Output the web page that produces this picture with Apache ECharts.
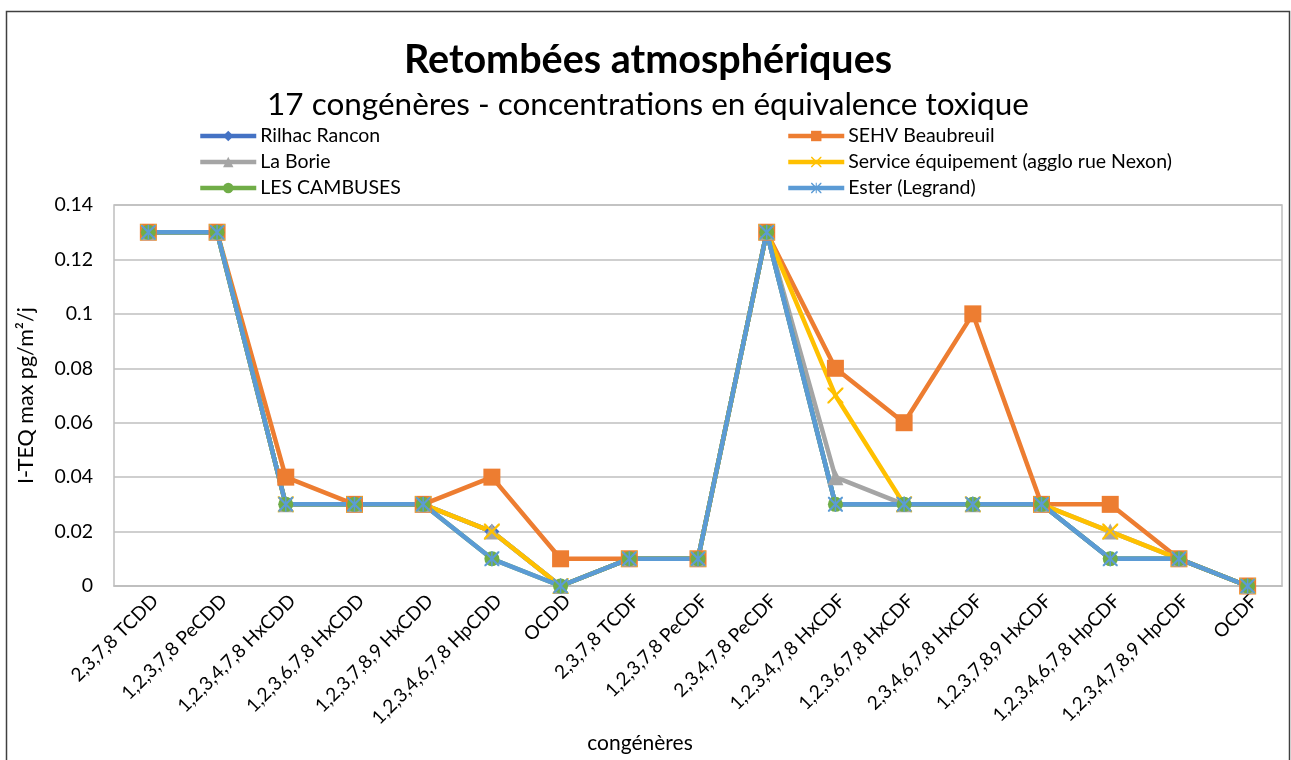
<!DOCTYPE html>
<html>
<head>
<meta charset="utf-8">
<script src="https://cdn.jsdelivr.net/npm/echarts@6/dist/echarts.min.js"></script>
<style>
  html, body { margin: 0; padding: 0; background: #fff; }
  #chart { width: 1291px; height: 760px; }
</style>
</head>
<body>
<div id="chart"></div>
<script>
// categories
const congeneres = [
  '2,3,7,8 TCDD', '1,2,3,7,8 PeCDD', '1,2,3,4,7,8 HxCDD', '1,2,3,6,7,8 HxCDD',
  '1,2,3,7,8,9 HxCDD', '1,2,3,4,6,7,8 HpCDD', 'OCDD', '2,3,7,8 TCDF',
  '1,2,3,7,8 PeCDF', '2,3,4,7,8 PeCDF', '1,2,3,4,7,8 HxCDF', '1,2,3,6,7,8 HxCDF',
  '2,3,4,6,7,8 HxCDF', '1,2,3,7,8,9 HxCDF', '1,2,3,4,6,7,8 HpCDF', '1,2,3,4,7,8,9 HpCDF', 'OCDF'
]

// values I-TEQ max pg/m²/j
const rilhacRancon = [0.13, 0.13, 0.03, 0.03, 0.03, 0.02, 0, 0.01, 0.01, 0.13, 0.03, 0.03, 0.03, 0.03, 0.01, 0.01, 0]
const sehvBeaubreuil = [0.13, 0.13, 0.04, 0.03, 0.03, 0.04, 0.01, 0.01, 0.01, 0.13, 0.08, 0.06, 0.1, 0.03, 0.03, 0.01, 0]
const laBorie = [0.13, 0.13, 0.03, 0.03, 0.03, 0.02, 0, 0.01, 0.01, 0.13, 0.04, 0.03, 0.03, 0.03, 0.02, 0.01, 0]
const serviceEquipement = [0.13, 0.13, 0.03, 0.03, 0.03, 0.02, 0, 0.01, 0.01, 0.13, 0.07, 0.03, 0.03, 0.03, 0.02, 0.01, 0]
const lesCambuses = [0.13, 0.13, 0.03, 0.03, 0.03, 0.01, 0, 0.01, 0.01, 0.13, 0.03, 0.03, 0.03, 0.03, 0.01, 0.01, 0]
const esterLegrand = [0.13, 0.13, 0.03, 0.03, 0.03, 0.01, 0, 0.01, 0.01, 0.13, 0.03, 0.03, 0.03, 0.03, 0.01, 0.01, 0]

const yTicks = [0, 0.02, 0.04, 0.06, 0.08, 0.1, 0.12, 0.14]

const FONT = 'Lato'
const crossPath = 'path://M0,0L2,0L10,8L18,0L20,0L20,2L12,10L20,18L20,20L18,20L10,12L2,20L0,20L0,18L8,10L0,2Z'
const starPath = 'path://M0,0L2,0L10,8L18,0L20,0L20,2L12,10L20,18L20,20L18,20L10,12L2,20L0,20L0,18L8,10L0,2Z M9,0L11,0L11,20L9,20Z'

function makeSeries(name, data, color, symbol, size) {
  return {
    name: name,
    type: 'line',
    data: data,
    symbol: symbol,
    symbolSize: size,
    showAllSymbol: true,
    lineStyle: { color: color, width: 4.5 },
    itemStyle: { color: color, borderColor: color, borderWidth: 0 },
    emphasis: { disabled: true }
  }
}

const series = [
  makeSeries('Rilhac Rancon', rilhacRancon, '#4472C4', 'diamond', 15),
  makeSeries('SEHV Beaubreuil', sehvBeaubreuil, '#ED7D31', 'rect', 17),
  makeSeries('La Borie', laBorie, '#A5A5A5', 'triangle', 16),
  makeSeries('Service équipement (agglo rue Nexon)', serviceEquipement, '#FFC000', crossPath, 16),
  makeSeries('LES CAMBUSES', lesCambuses, '#70AD47', 'circle', 15),
  makeSeries('Ester (Legrand)', esterLegrand, '#5B9BD5', starPath, 15)
]

// one legend per entry: two columns of three rows
const legendCells = [
  ['Rilhac Rancon', 198, 136],
  ['SEHV Beaubreuil', 786, 136],
  ['La Borie', 198, 162],
  ['Service équipement (agglo rue Nexon)', 786, 162],
  ['LES CAMBUSES', 198, 188],
  ['Ester (Legrand)', 786, 188]
]
const legends = legendCells.map(c => ({
  left: c[1],
  top: c[2] - 11,
  padding: 0,
  itemWidth: 56,
  itemHeight: 13,
  itemGap: 0,
  selectedMode: false,
  lineStyle: { width: 4.5 },
  data: [c[0]],
  textStyle: { fontFamily: FONT, fontSize: 19.5, lineHeight: 22, color: '#000', padding: [0, 0, 0, -1] }
}))

const myChart = echarts.init(document.getElementById('chart'))
const option = {
  animation: false,
  backgroundColor: '#fff',
  textStyle: { fontFamily: FONT },
  legend: legends,
  grid: {
    left: 114,
    right: 9,
    top: 205,
    bottom: 174,
    show: true,
    borderColor: '#bfbfbf',
    borderWidth: 1.5
  },
  xAxis: {
    type: 'category',
    data: congeneres,
    boundaryGap: true,
    axisTick: { show: false },
    axisLine: { lineStyle: { color: '#bfbfbf', width: 1.5 } },
    axisLabel: {
      rotate: 45,
      interval: 0,
      margin: 5,
      verticalAlign: 'top',
      fontFamily: FONT,
      fontSize: 19,
      color: '#000'
    }
  },
  yAxis: {
    type: 'value',
    min: 0,
    max: 0.14,
    interval: 0.02,
    name: 'I-TEQ max pg/m²/j',
    nameLocation: 'middle',
    nameGap: 77,
    nameTextStyle: { fontFamily: FONT, fontSize: 21.5, color: '#000' },
    axisLine: { show: false },
    axisTick: { show: false },
    splitLine: { lineStyle: { color: '#bfbfbf', width: 1.5 } },
    axisLabel: {
      margin: 21,
      fontFamily: FONT,
      fontSize: 19.5,
      color: '#000',
      formatter: function (v) {
        let t = yTicks.find(x => Math.abs(x - v) < 1e-9)
        return String(t !== undefined ? t : parseFloat(v.toFixed(2)))
      }
    }
  },
  graphic: [
    {
      type: 'rect',
      shape: { x: 6.5, y: 11.5, width: 1283, height: 760 },
      style: { fill: 'none', stroke: '#404040', lineWidth: 1.5 },
      z: -1, silent: true
    },
    {
      type: 'text', x: 648, y: 60,
      style: { text: 'Retombées atmosphériques', fontFamily: FONT, fontWeight: 'bold', fontSize: 39.5, fill: '#000', textAlign: 'center', textVerticalAlign: 'middle' }
    },
    {
      type: 'text', x: 648, y: 105,
      style: { text: '17 congénères - concentrations en équivalence toxique', fontFamily: FONT, fontSize: 31.5, fill: '#000', textAlign: 'center', textVerticalAlign: 'middle' }
    },
    {
      type: 'text', x: 640, y: 743,
      style: { text: 'congénères', fontFamily: FONT, fontSize: 21, fill: '#000', textAlign: 'center', textVerticalAlign: 'middle' }
    }
  ],
  series
}
myChart.setOption(option)
</script>
</body>
</html>
